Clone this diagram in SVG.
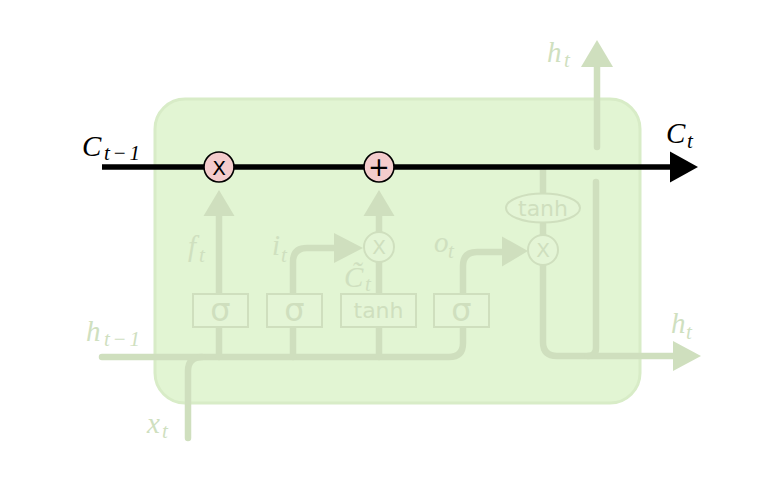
<svg xmlns="http://www.w3.org/2000/svg" width="778" height="486" viewBox="0 0 778 486">
<style>
.ln{fill:none;stroke:#cfdfbe;stroke-width:6.5;stroke-linecap:round;stroke-linejoin:round}
.ah{fill:#cfdfbe;stroke:none}
.gate{fill:#e4f5d6;stroke:#cfdfbe;stroke-width:2}
.gt{font-family:"DejaVu Sans",sans-serif;fill:#cfdfbe;text-anchor:middle}
.pt{fill:#e4f5d6;stroke:#cfdfbe;stroke-width:2}
.px{font-family:"DejaVu Sans",sans-serif;fill:#cfdfbe;text-anchor:middle;font-size:20px}
.op{fill:#f4cccc;stroke:#000;stroke-width:1.6}
.ox{font-family:"DejaVu Sans",sans-serif;fill:#000;text-anchor:middle}
.m{font-family:"Liberation Serif",serif;font-style:italic;font-size:29px}
.s{font-family:"Liberation Serif",serif;font-style:italic;font-size:21px}
.lg{fill:#cfe0bf}
.bk{fill:#000}
</style>
<rect width="778" height="486" fill="#fff"/>
<g id="cell">
<rect x="155" y="99" width="485" height="304" rx="30" ry="30" fill="#e2f5d3" stroke="#d8ecc7" stroke-width="3"/>
</g>
<g id="connectors">
<path class="ln" d="M102,357 H449 Q463,357 463,343 V327"/>
<path class="ln" d="M188,438 V371 Q188,357 202,357"/>
<path class="ln" d="M219,357 V327 M293,357 V327 M379,357 V327"/>
<path class="ln" d="M219,294 V214"/>
<polygon class="ah" points="219,190 203.5,216 234.5,216"/>
<path class="ln" d="M293,294 V262 Q293,248 307,248 H336"/>
<polygon class="ah" points="363,248 334,233 334,263"/>
<path class="ln" d="M379,294 V262"/>
<path class="ln" d="M379,232 V214"/>
<polygon class="ah" points="379,190 363.5,216 394.5,216"/>
<path class="ln" d="M463,294 V266 Q463,252 477,252 H504"/>
<polygon class="ah" points="528,251 502,236.5 502,266.5"/>
<path class="ln" d="M543,170 V194 M543,222 V235"/>
<path class="ln" d="M543,265 V342 Q543,356 557,356 H674"/>
<path class="ln" d="M596,182 V348 Q596,356 588,356"/>
<path class="ln" d="M597,147 V64"/>
<polygon class="ah" points="597,40 581,67 613,67"/>
<polygon class="ah" points="701,356 673,341 673,371"/>
<path d="M102,167 H673" fill="none" stroke="#000" stroke-width="5.5"/>
<polygon points="698,167 670,151.5 670,182.5" fill="#000"/>
</g>
<g id="forget-gate"><rect class="gate" x="193" y="294" width="55" height="33"/><text class="gt" x="220.5" y="321" font-size="32">σ</text></g>
<g id="input-gate"><rect class="gate" x="267" y="294" width="55" height="33"/><text class="gt" x="294.5" y="321" font-size="32">σ</text></g>
<g id="tanh-layer"><rect class="gate" x="341" y="294" width="75" height="33"/><text class="gt" x="378.5" y="318" font-size="22">tanh</text></g>
<g id="output-gate"><rect class="gate" x="434" y="294" width="55" height="33"/><text class="gt" x="461.5" y="321" font-size="32">σ</text></g>
<g id="mult-forget"><circle class="op" cx="219" cy="167" r="15"/><text class="ox" x="219" y="174.5" font-size="20">X</text></g>
<g id="add"><circle class="op" cx="379" cy="167" r="15"/><text class="ox" x="379" y="176" font-size="26">+</text></g>
<g id="mult-input"><circle class="pt" cx="379" cy="247" r="15"/><text class="px" x="379" y="254">X</text></g>
<g id="mult-output"><circle class="pt" cx="543" cy="250" r="15"/><text class="px" x="543" y="257">X</text></g>
<g id="tanh-out"><ellipse class="pt" cx="543" cy="208" rx="37" ry="14.5"/><text class="gt" x="543" y="216" font-size="22">tanh</text></g>
<g id="labels">
<text class="m bk" x="82" y="156">C</text><text class="s bk" x="104" y="160" textLength="36" lengthAdjust="spacing">t−1</text>
<text class="m bk" x="666" y="143">C</text><text class="s bk" x="687" y="148">t</text>
<text class="m lg" x="188" y="256">f</text><text class="s lg" x="199" y="262">t</text>
<text class="m lg" x="272" y="255">i</text><text class="s lg" x="281" y="262">t</text>
<text class="m lg" x="434" y="252">o</text><text class="s lg" x="448" y="258">t</text>
<text class="m lg" x="344" y="287">C̃</text><text class="s lg" x="365" y="291">t</text>
<text class="m lg" x="547" y="62">h</text><text class="s lg" x="564" y="67">t</text>
<text class="m lg" x="671" y="333">h</text><text class="s lg" x="686" y="339">t</text>
<text class="m lg" x="86" y="341">h</text><text class="s lg" x="104" y="346" textLength="36" lengthAdjust="spacing">t−1</text>
<text class="m lg" x="147" y="433">x</text><text class="s lg" x="162" y="438">t</text>
</g>
</svg>
